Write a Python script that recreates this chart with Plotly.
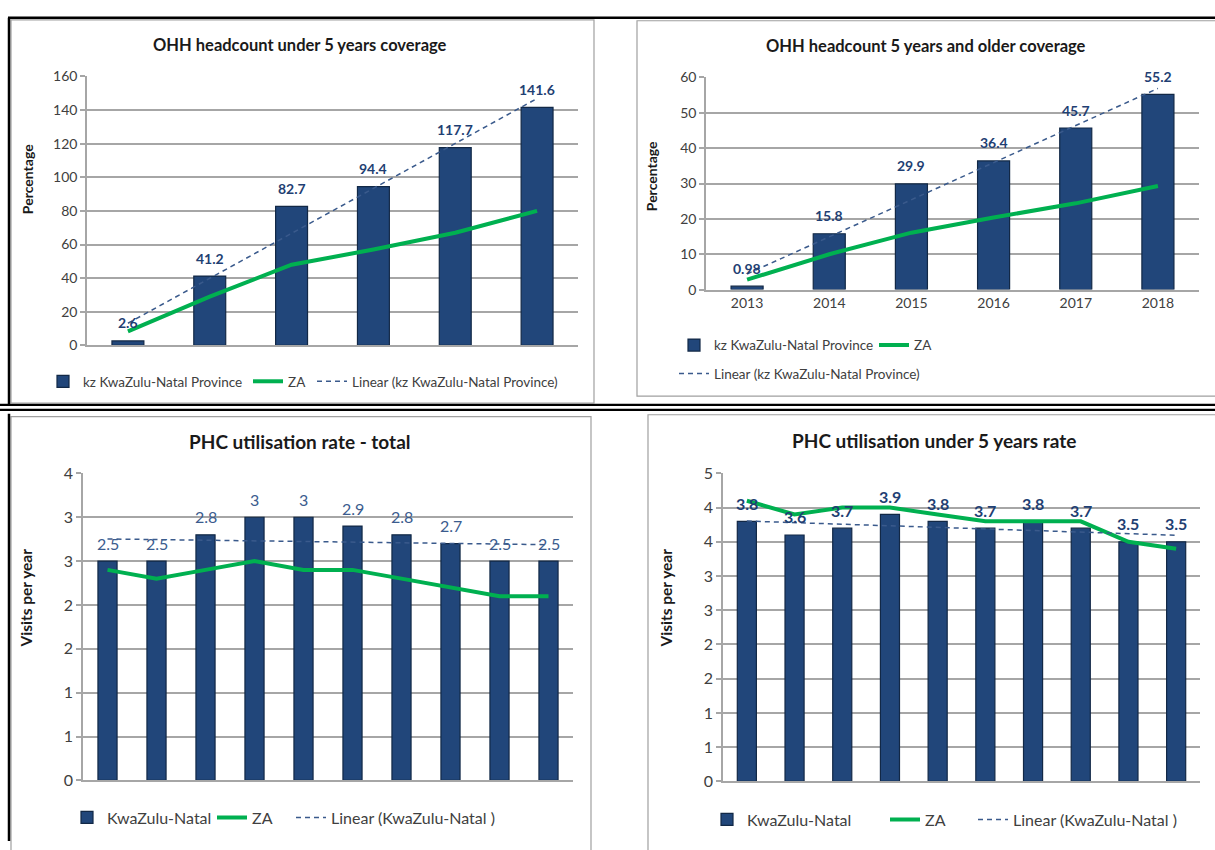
import numpy as np
import plotly.graph_objects as go

W, H = 1215, 850

# ---------------- data ----------------
p1_years = ["2013", "2014", "2015", "2016", "2017", "2018"]
p1_kzn = [2.6, 41.2, 82.7, 94.4, 117.7, 141.6]
p1_za = [8.3, 29.0, 48.0, 57.0, 67.0, 80.0]

p2_years = ["2013", "2014", "2015", "2016", "2017", "2018"]
p2_kzn = [0.98, 15.8, 29.9, 36.4, 45.7, 55.2]
p2_za = [2.8, 10.0, 16.1, 20.4, 24.4, 29.3]

p3_periods = ["P1", "P2", "P3", "P4", "P5", "P6", "P7", "P8", "P9", "P10"]
p3_kzn = [2.5, 2.5, 2.8, 3.0, 3.0, 2.9, 2.8, 2.7, 2.5, 2.5]
p3_za = [2.4, 2.3, 2.4, 2.5, 2.4, 2.4, 2.3, 2.2, 2.1, 2.1]
p3_tickvals = [0, 0.5, 1, 1.5, 2, 2.5, 3, 3.5]
p3_ticktext = ["0", "1", "1", "2", "2", "3", "3", "4"]

p4_periods = ["P1", "P2", "P3", "P4", "P5", "P6", "P7", "P8", "P9", "P10"]
p4_kzn = [3.8, 3.6, 3.7, 3.9, 3.8, 3.7, 3.8, 3.7, 3.5, 3.5]
p4_za = [4.1, 3.9, 4.0, 4.0, 3.9, 3.8, 3.8, 3.8, 3.5, 3.4]
p4_tickvals = [0, 0.5, 1, 1.5, 2, 2.5, 3, 3.5, 4, 4.5]
p4_ticktext = ["0", "1", "1", "2", "2", "3", "3", "4", "4", "5"]

titles = ["OHH headcount under 5 years coverage",
          "OHH headcount 5 years and older coverage",
          "PHC utilisation rate - total",
          "PHC utilisation under 5 years rate"]
ytitles = ["Percentage", "Percentage", "Visits per year", "Visits per year"]

# ---------------- style ----------------
FONT = "Lato"
BAR = "#21467A"
BAR_EDGE = "#122846"
GREEN = "#00B050"
TREND = "#3A5A8C"
LABEL = "#1F3F73"
GRID = "#A6A6A6"
TICK = "#404040"


def px(x):
    return x / W


def py(y):
    return 1 - y / H


def trend(vals):
    idx = np.arange(len(vals))
    a, b = np.polyfit(idx, np.array(vals, dtype=float), 1)
    return list(a * idx + b)


fig = go.Figure()

panels = [
    dict(cats=p1_years, kzn=p1_kzn, za=p1_za, ax="", dom_x=(87, 578), dom_y=(68, 343),
         yr=[0, 160], dtick=20, tv=None, tt=None, width=0.39, bar_name="kz KwaZulu-Natal Province",
         trend_name="Linear (kz KwaZulu-Natal Province)", leg="legend", tleg="legend",
         lw=(160, 19), label_bold=True, label_size=14, tick_size=14, showx=False),
    dict(cats=p2_years, kzn=p2_kzn, za=p2_za, ax="2", dom_x=(706, 1199), dom_y=(69, 286),
         yr=[0, 60], dtick=10, tv=None, tt=None, width=0.39, bar_name="kz KwaZulu-Natal Province",
         trend_name="Linear (kz KwaZulu-Natal Province)", leg="legend2", tleg="legend3",
         lw=(155, 19), label_bold=True, label_size=14, tick_size=14, showx=True),
    dict(cats=p3_periods, kzn=p3_kzn, za=p3_za, ax="3", dom_x=(83, 573), dom_y=(474, 788),
         yr=[0, 3.5], dtick=None, tv=p3_tickvals, tt=p3_ticktext, width=0.39, bar_name="KwaZulu-Natal",
         trend_name="Linear (KwaZulu-Natal )", leg="legend4", tleg="legend4",
         lw=(100, 34), label_bold=False, label_size=16, tick_size=16, showx=False),
    dict(cats=p4_periods, kzn=p4_kzn, za=p4_za, ax="4", dom_x=(723, 1200), dom_y=(474, 789),
         yr=[0, 4.5], dtick=None, tv=p4_tickvals, tt=p4_ticktext, width=0.4, bar_name="KwaZulu-Natal",
         trend_name="Linear (KwaZulu-Natal )", leg="legend5", tleg="legend5",
         lw=(133, 43), label_bold=True, label_size=16, tick_size=16, showx=False),
]

annotations = []
for p in panels:
    xa = "x" + p["ax"]
    ya = "y" + p["ax"]
    fig.add_trace(go.Bar(
        x=p["cats"], y=p["kzn"], name=p["bar_name"], xaxis=xa, yaxis=ya,
        width=p["width"], marker=dict(color=BAR, line=dict(color=BAR_EDGE, width=1.2)),
        legend=p["leg"], legendwidth=p["lw"][0], hoverinfo="skip"))
    fig.add_trace(go.Scatter(
        x=p["cats"], y=p["za"], name="ZA", mode="lines", xaxis=xa, yaxis=ya,
        line=dict(color=GREEN, width=4), legend=p["leg"], legendwidth=p["lw"][1],
        hoverinfo="skip"))
    fig.add_trace(go.Scatter(
        x=p["cats"], y=trend(p["kzn"]), name=p["trend_name"], mode="lines", xaxis=xa, yaxis=ya,
        line=dict(color=TREND, width=1.5, dash="5px,4px"), legend=p["tleg"],
        hoverinfo="skip"))
    for i, v in enumerate(p["kzn"]):
        txt = "{:g}".format(v)
        if p["label_bold"]:
            txt = "<b>" + txt + "</b>"
        annotations.append(dict(
            x=i, y=v, xref=xa, yref=ya, text=txt, showarrow=False, yshift=18,
            xanchor="center", yanchor="middle",
            font=dict(family=FONT, size=p["label_size"],
                      color=LABEL if p["label_bold"] else "#3B5C8E")))

    xkey = "xaxis" + p["ax"]
    ykey = "yaxis" + p["ax"]
    n = len(p["cats"])
    fig.update_layout(**{
        xkey: dict(domain=[px(p["dom_x"][0]), px(p["dom_x"][1])], anchor=ya,
                   type="category", range=[-0.5, n - 0.5], showgrid=False,
                   showline=True, linecolor=GRID, linewidth=2, ticks="",
                   showticklabels=p["showx"], tickfont=dict(family=FONT, size=14, color=TICK),
                   fixedrange=True),
        ykey: dict(domain=[py(p["dom_y"][1]), py(p["dom_y"][0])], anchor=xa,
                   range=p["yr"], showgrid=True, gridcolor=GRID, gridwidth=1.5,
                   showline=True, linecolor=GRID, linewidth=1.5, ticks="outside",
                   ticklen=5, tickcolor=GRID, tickwidth=1.5, zeroline=False,
                   tickfont=dict(family=FONT, size=p["tick_size"], color=TICK),
                   fixedrange=True),
    })
    if p["tv"] is not None:
        fig.update_layout(**{ykey: dict(tickmode="array", tickvals=p["tv"], ticktext=p["tt"])})
    else:
        fig.update_layout(**{ykey: dict(dtick=p["dtick"], tick0=0)})

# titles
title_pos = [(300, 36, 16.5), (926, 37, 16.5), (300, 441, 19), (934, 440, 19)]
for t, (x, y, s) in zip(titles, title_pos):
    annotations.append(dict(x=px(x), y=py(y), xref="paper", yref="paper", text="<b>" + t + "</b>",
                            showarrow=False, xanchor="center", yanchor="middle",
                            font=dict(family=FONT, size=s, color="#1A1A1A")))
ytitle_pos = [(27, 173, 14), (651, 170, 14), (26, 602, 15.5), (666, 602, 15.5)]
for t, (x, y, s) in zip(ytitles, ytitle_pos):
    annotations.append(dict(x=px(x), y=py(y), xref="paper", yref="paper", text="<b>" + t + "</b>",
                            textangle=-90, showarrow=False, xanchor="center", yanchor="middle",
                            font=dict(family=FONT, size=s, color="#1A1A1A")))

# borders
shapes = []


def rect(x0, y0, x1, y1, color, w):
    shapes.append(dict(type="rect", xref="paper", yref="paper", x0=px(x0), y0=py(y0),
                       x1=px(x1), y1=py(y1), line=dict(color=color, width=w),
                       fillcolor="rgba(0,0,0,0)"))


def line(x0, y0, x1, y1, color, w):
    shapes.append(dict(type="line", xref="paper", yref="paper", x0=px(x0), y0=py(y0),
                       x1=px(x1), y1=py(y1), line=dict(color=color, width=w)))


rect(11, 10, 594, 402, "#A0A0A0", 1.2)
rect(637, 11, 1222, 395, "#A0A0A0", 1.2)
rect(11, 416, 591, 860, "#A0A0A0", 1.2)
rect(648, 414, 1222, 860, "#A0A0A0", 1.2)
line(8, 8, 1215, 8, "#000000", 2.5)
line(9, 8, 9, 404, "#000000", 2.5)
line(0, 404, 1215, 404, "#000000", 2.2)
line(0, 409, 1215, 409, "#000000", 2.2)
line(9, 413, 9, 850, "#000000", 2.5)

leg_common = dict(orientation="h", xanchor="left", yanchor="middle", bgcolor="rgba(0,0,0,0)",
                  traceorder="normal", itemwidth=30)
fig.update_layout(
    width=W, height=H, margin=dict(l=0, r=0, t=0, b=0),
    paper_bgcolor="white", plot_bgcolor="white",
    showlegend=True, barmode="overlay",
    font=dict(family=FONT, color=TICK),
    legend=dict(x=px(43), y=py(380), font=dict(family=FONT, size=13.5, color=TICK), **leg_common),
    legend2=dict(x=px(674), y=py(343), font=dict(family=FONT, size=13.5, color=TICK), **leg_common),
    legend3=dict(x=px(674), y=py(372), font=dict(family=FONT, size=13.5, color=TICK), **leg_common),
    legend4=dict(x=px(67), y=py(826), font=dict(family=FONT, size=16, color=TICK), **leg_common),
    legend5=dict(x=px(707), y=py(828), font=dict(family=FONT, size=16, color=TICK), **leg_common),
    annotations=annotations, shapes=shapes,
)

fig.write_html("out.html")
